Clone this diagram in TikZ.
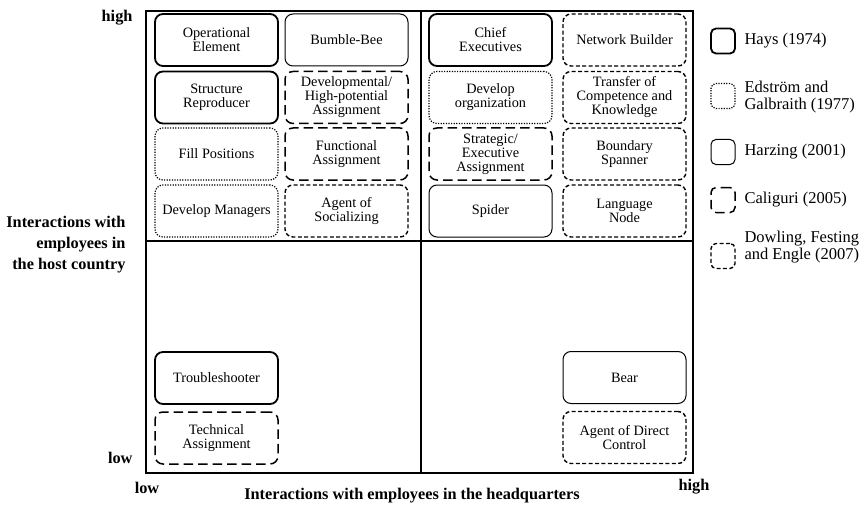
\documentclass[tikz,border=0pt]{standalone}
\usepackage{fontspec}
\setmainfont{Liberation Serif}
\begin{document}
\begin{tikzpicture}[x=1pt,y=-1pt,
  frame/.style={line width=1.5pt},
  box/.style={rounded corners=8pt, minimum width=123pt, minimum height=52pt,
    inner sep=0pt, align=center, font=\fontsize{14.3}{14}\selectfont},
  key/.style={rounded corners=5pt, minimum width=24pt, minimum height=25pt, inner sep=0pt},
  hays/.style={draw, line width=1.8pt},
  harzing/.style={draw, line width=1.0pt},
  edstrom/.style={draw, line width=1.2pt, dash pattern=on 1.2pt off 1.4pt},
  caliguri/.style={draw, line width=1.5pt, dash pattern=on 9.5pt off 5pt},
  dowling/.style={draw, line width=1.4pt, dash pattern=on 4pt off 2.4pt},
  keytext/.style={anchor=west, align=left, font=\fontsize{16.5}{17.5}\selectfont},
  axis/.style={font=\fontsize{16.3}{21}\selectfont\bfseries}
]
\useasboundingbox (0,0) rectangle (867,508);

% quadrant frame
\draw[frame] (146,11) rectangle (693,473);
\coordinate (vtop) at (421,11);
\coordinate (vbot) at (421,473);
\coordinate (hleft) at (146,241);
\coordinate (hright) at (693,241);
\draw[line width=1.3pt] (vtop) -- (vbot);
\draw[line width=1.3pt] (hleft) -- (hright);

% top-left quadrant
\node[box,hays]    (opel)  at (216.5,40)   {Operational\\Element};
\node[box,harzing] (bee)   at (346.5,40)   {Bumble-Bee};
\node[box,hays]    (strep) at (216.5,97.5) {Structure\\Reproducer};
\node[box,caliguri](devhp) at (346.5,97.5) {Developmental/\\High-potential\\Assignment};
\node[box,edstrom] (fill)  at (216.5,154)  {Fill Positions};
\node[box,caliguri](func)  at (346.5,154)  {Functional\\Assignment};
\node[box,edstrom] (devm)  at (216.5,211)  {Develop Managers};
\node[box,dowling] (soc)   at (346.5,211)  {Agent of\\Socializing};

% top-right quadrant
\node[box,hays]    (chief) at (490.5,40)   {Chief\\Executives};
\node[box,dowling] (net)   at (624.5,40)   {Network Builder};
\node[box,edstrom] (devo)  at (490.5,97.5) {Develop\\organization};
\node[box,dowling] (trans) at (624.5,97.5) {Transfer of\\Competence and\\Knowledge};
\node[box,caliguri](strat) at (490.5,154)  {Strategic/\\Executive\\Assignment};
\node[box,dowling] (bound) at (624.5,154)  {Boundary\\Spanner};
\node[box,harzing] (spider)at (490.5,211)  {Spider};
\node[box,dowling] (lang)  at (624.5,211)  {Language\\Node};

% bottom quadrants
\node[box,hays]    (trouble) at (216.5,378) {Troubleshooter};
\node[box,caliguri](tech)    at (216.5,438) {Technical\\Assignment};
\node[box,harzing] (bear)    at (624.5,377.5) {Bear};
\node[box,dowling] (direct)  at (624.5,437.5) {Agent of Direct\\Control};

% axis labels
\node[axis, anchor=east] (yhigh) at (136,18) {high};
\node[axis, anchor=east] (ylow)  at (136,458) {low};
\node[axis, anchor=east, align=right] (ylabel) at (129,245)
  {Interactions with\\employees in\\the host country};
\node[axis] (xlow)  at (147,488) {low};
\node[axis] (xhigh) at (694,487) {high};
\node[axis] (xlabel) at (412,496) {Interactions with employees in the headquarters};

% legend
\node[key,hays]     (kh) at (723,41)  {};
\node[keytext] (th) at (741,41) {Hays (1974)};
\node[key,edstrom]  (ke) at (723,96)  {};
\node[keytext] (te) at (741,97) {Edström and\\Galbraith (1977)};
\node[key,harzing]  (kz) at (723,152) {};
\node[keytext] (tz) at (741,152) {Harzing (2001)};
\node[key,caliguri] (kc) at (723,200) {};
\node[keytext] (tc) at (741,200) {Caliguri (2005)};
\node[key,dowling]  (kd) at (723,256) {};
\node[keytext] (td) at (741,247) {Dowling, Festing\\and Engle (2007)};
\end{tikzpicture}
\end{document}
